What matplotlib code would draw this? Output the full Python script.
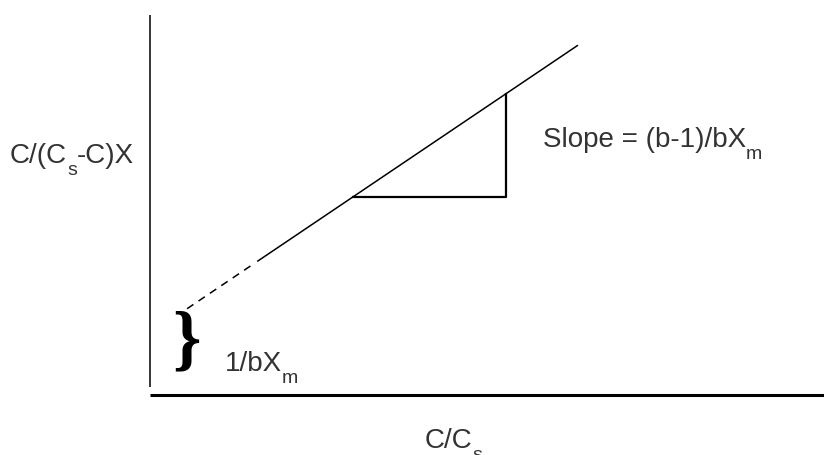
import numpy as np
import matplotlib
matplotlib.use('Agg')
import matplotlib.pyplot as plt
from matplotlib.transforms import IdentityTransform

plt.rcParams['font.family'] = ['Liberation Sans', 'DejaVu Sans']

# linearised isotherm: C/(Cs-C)X = 1/bXm + (b-1)/bXm * C/Cs
intercept = 0.158
slope = 1.171
x_dash = np.array([0.055, 0.156])
x_solid = np.array([0.160, 0.634])
tri_x = np.array([0.301, 0.528])

# labels as (text, is_subscript) pieces
ylabel = [('C/(C', False), ('s', True), ('-C)X', False)]
xlabel = [('C/C', False), ('s', True)]
slope_text = [('Slope = (b-1)/bX', False), ('m', True)]
icept_text = [('1/bX', False), ('m', True)]

txt_color = '#333333'
main_size = 20
sub_size = 14
sub_drop = 12  # px below the baseline

fig = plt.figure(figsize=(8.24, 4.56), dpi=100)
ax = fig.add_axes([0, 0, 1, 1])
ax.set_xlim(-0.2226, 1.0)
ax.set_ylim(-0.1546, 1.0206)
ax.axis('off')
renderer = fig.canvas.get_renderer()


def label(x, y, parts):
    px, py = ax.transData.transform((x, y))
    for s, sub in parts:
        if sub:
            t = ax.text(px, py - sub_drop, s, fontsize=sub_size, color=txt_color,
                        va='baseline', transform=IdentityTransform())
        else:
            t = ax.text(px, py, s, fontsize=main_size, color=txt_color,
                        va='baseline', transform=IdentityTransform())
        px += t.get_window_extent(renderer).width


# axes drawn by hand
ax.plot([0, 0], [0.021, 0.979], color='black', lw=1.1, solid_capstyle='butt')
ax.plot([0, 1.0], [0, 0], color='black', lw=2.2, solid_capstyle='butt')

# extrapolated part and the fitted line
ax.plot(x_dash, intercept + slope * x_dash, color='black', lw=1.1,
        dashes=(5, 4))
ax.plot(x_solid, intercept + slope * x_solid, color='black', lw=1.1)

# slope triangle
y0 = intercept + slope * tri_x[0]
y1 = intercept + slope * tri_x[1]
ax.plot([tri_x[0], tri_x[1], tri_x[1]], [y0, y0, y1], color='black', lw=1.6)

ax.text(0.0534, 0.1366, '}', fontsize=52, fontweight='bold',
        family='Liberation Serif', ha='center', va='center', color='black')

label(-0.2077, 0.6005, ylabel)
label(0.408, -0.1340, xlabel)
label(0.5830, 0.6418, slope_text)
label(0.1113, 0.0644, icept_text)

fig.savefig('out.png', dpi=100)
